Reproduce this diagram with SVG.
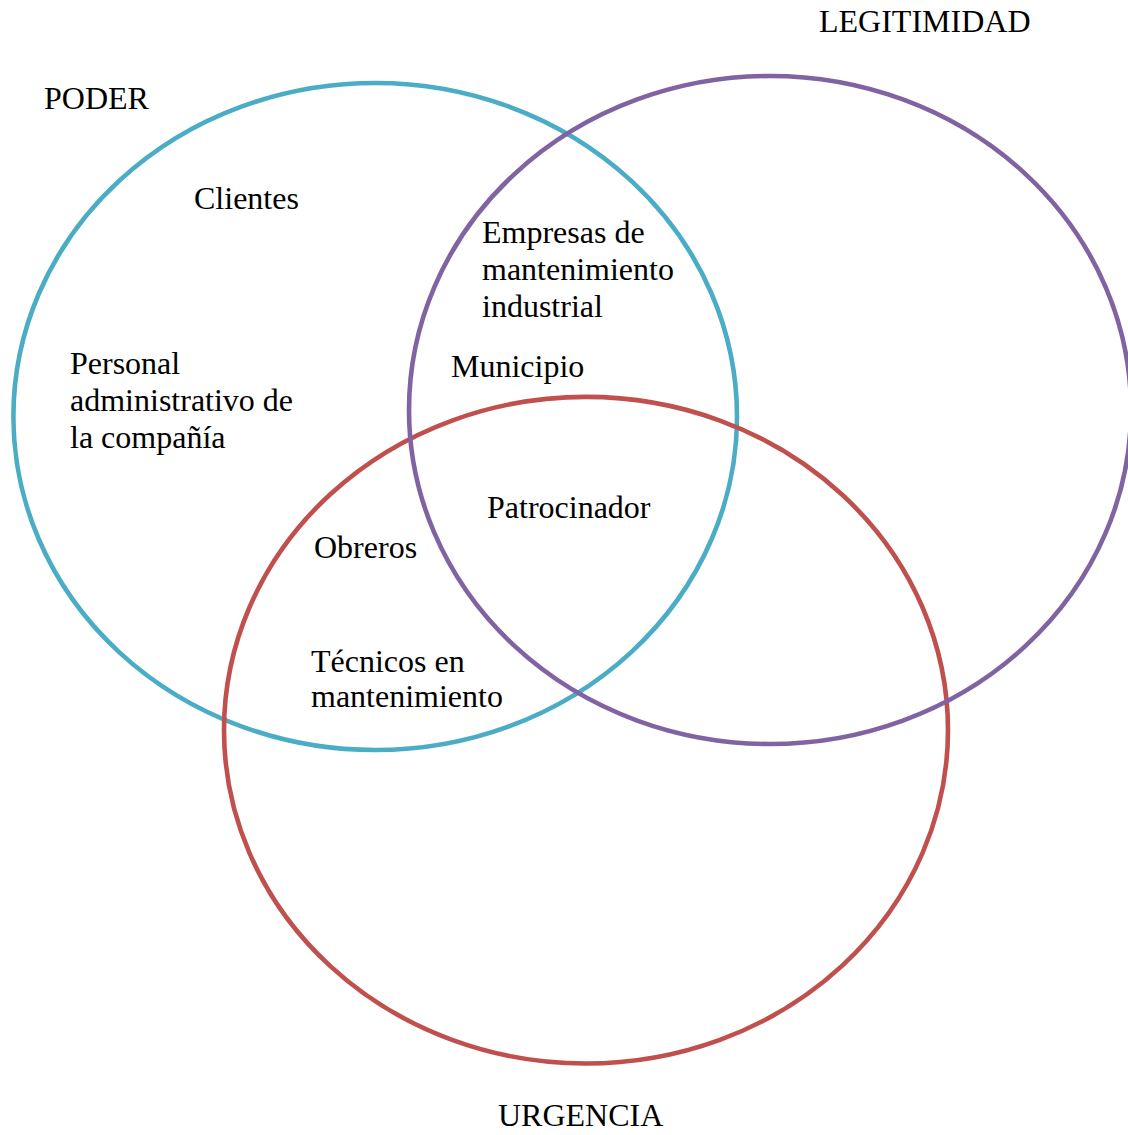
<svg xmlns="http://www.w3.org/2000/svg" width="1128" height="1135" viewBox="0 0 1128 1135">
  <style>
    .ring { fill: none; stroke-width: 4.6; }
    .lbl { font-family: "Liberation Serif", "Times New Roman", serif; font-size: 32px; fill: #000; }
  </style>
  <rect width="1128" height="1135" fill="#ffffff"/>

  <!-- the three overlapping sets -->
  <g id="sets">
    <g id="poder">
      <ellipse class="ring" cx="375.2" cy="416.5" rx="361.8" ry="333.5" stroke="#4BACC6"/>
      <text class="lbl" x="44" y="109">PODER</text>
    </g>
    <g id="urgencia">
      <ellipse class="ring" cx="586" cy="730.2" rx="362" ry="333.3" stroke="#C0504D"/>
      <text class="lbl" x="498" y="1126">URGENCIA</text>
    </g>
    <g id="legitimidad">
      <ellipse class="ring" cx="770" cy="410" rx="361" ry="334" stroke="#8064A2"/>
      <text class="lbl" x="819" y="32">LEGITIMIDAD</text>
    </g>
  </g>

  <!-- stakeholders placed in their regions -->
  <g id="clientes"><text class="lbl" x="194" y="209">Clientes</text></g>
  <g id="personal">
    <text class="lbl" x="70" y="374">Personal</text>
    <text class="lbl" x="70" y="411">administrativo de</text>
    <text class="lbl" x="70" y="448">la compañía</text>
  </g>
  <g id="empresas">
    <text class="lbl" x="482" y="243">Empresas de</text>
    <text class="lbl" x="482" y="280">mantenimiento</text>
    <text class="lbl" x="482" y="317">industrial</text>
  </g>
  <g id="municipio"><text class="lbl" x="451" y="377">Municipio</text></g>
  <g id="patrocinador"><text class="lbl" x="487" y="518">Patrocinador</text></g>
  <g id="obreros"><text class="lbl" x="314" y="558">Obreros</text></g>
  <g id="tecnicos">
    <text class="lbl" x="311" y="672">Técnicos en</text>
    <text class="lbl" x="311" y="707">mantenimiento</text>
  </g>

  <g id="connectors"/>
</svg>
